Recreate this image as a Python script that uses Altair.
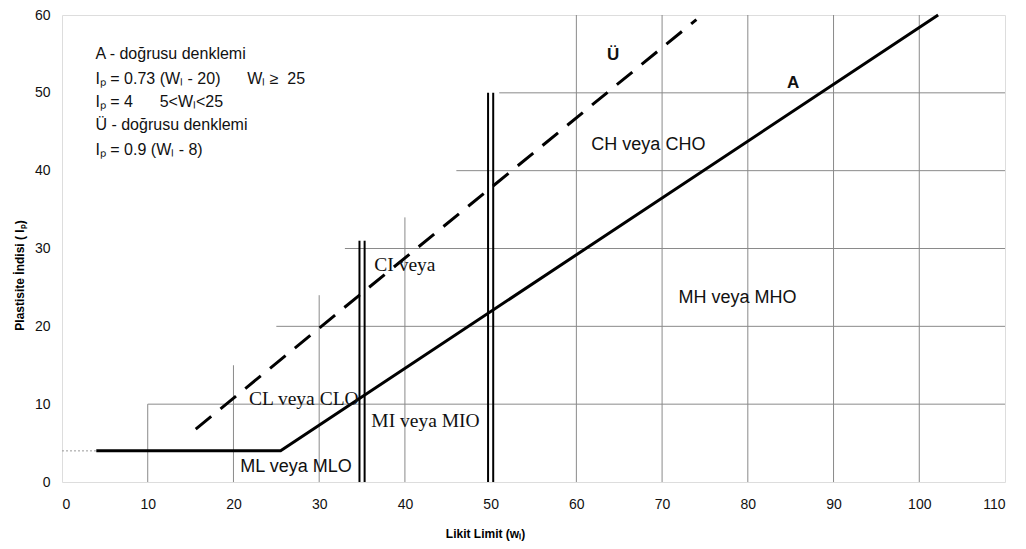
import altair as alt
import pandas as pd

# ---- data ----
grid_v_x = [10, 20, 30, 40, 60, 70, 80, 90, 100]
grid_v_top = [10, 15, 24, 34, 60, 60, 60, 60, 60]
grid_h_y = [10, 20, 30, 40, 50]
grid_h_start = [10, 25, 33, 46, 51]
grid_h_end = [110, 110, 110, 110, 110]

dbl_x = [34.7, 35.3, 49.7, 50.3]
dbl_top = [31, 31, 50, 50]

a_x = [4, 25.5, 102.2]
a_y = [4, 4, 60]
u_x = [15.6, 74.0]
u_y = [6.8, 59.4]
dot_x = [0, 4]
dot_y = [4, 4]

sans_labels = ["CH veya CHO", "MH veya MHO", "ML veya MLO"]
sans_x = [68.4, 78.8, 27.3]
sans_y = [43.3, 23.7, 1.9]
serif_labels = ["CI veya", "CL veya CLO", "MI veya MIO"]
serif_x = [40.0, 28.2, 42.4]
serif_y = [27.9, 10.6, 7.9]

line_names = ["Ü", "A"]
line_name_x = [64.3, 85.3]
line_name_y = [54.9, 51.3]

eq_lines = [
    "A - doğrusu denklemi",
    "Iₚ = 0.73 (Wₗ - 20)\u00a0\u00a0\u00a0\u00a0\u00a0\u00a0Wₗ ≥\u00a0\u00a025",
    "Iₚ = 4\u00a0\u00a0\u00a0\u00a0\u00a0\u00a05<Wₗ<25",
    "Ü - doğrusu denklemi",
    "Iₚ = 0.9 (Wₗ - 8)",
]
eq_x = [3.9, 3.9, 3.9, 3.9, 3.9]
eq_y = [55.0, 51.8, 48.8, 45.9, 42.6]

x_ticks = list(range(0, 111, 10))
y_ticks = list(range(0, 61, 10))

SANS = "Liberation Sans"
SERIF = "Liberation Serif"

xs = alt.Scale(domain=[0, 110], nice=False, zero=False)
ys = alt.Scale(domain=[0, 60], nice=False, zero=False)

x_axis = alt.Axis(values=x_ticks, grid=False, ticks=False, domain=False,
                  labelFont=SANS, labelFontSize=14, labelColor="#111",
                  labelPadding=15, title="Likit Limit (wₗ)",
                  titleFont=SANS, titleFontSize=12, titleFontWeight="bold",
                  titleX=423, titleY=51, titleAnchor="middle", titleAlign="center",
                  titleBaseline="middle")
y_axis = alt.Axis(values=y_ticks, grid=False, ticks=False, domain=False,
                  labelFont=SANS, labelFontSize=14, labelColor="#111",
                  labelPadding=12, title="Plastisite İndisi ( Iₚ)",
                  titleFont=SANS, titleFontSize=12, titleFontWeight="bold",
                  titleX=-43, titleY=260, titleAlign="center",
                  titleBaseline="middle")

gv = pd.DataFrame({"x": grid_v_x, "y0": [0] * len(grid_v_x), "y1": grid_v_top})
gh = pd.DataFrame({"y": grid_h_y, "x0": grid_h_start, "x1": grid_h_end})
dbl = pd.DataFrame({"x": dbl_x, "y0": [0] * len(dbl_x), "y1": dbl_top})
adf = pd.DataFrame({"x": a_x, "y": a_y, "o": list(range(len(a_x)))})
udf = pd.DataFrame({"x": u_x, "y": u_y, "o": list(range(len(u_x)))})
ddf = pd.DataFrame({"x": dot_x, "y": dot_y})

grid_v = alt.Chart(gv).mark_rule(color="#8a8a8a", strokeWidth=1).encode(
    x=alt.X("x:Q", scale=xs, axis=x_axis),
    y=alt.Y("y0:Q", scale=ys, axis=y_axis),
    y2="y1:Q",
)
grid_h = alt.Chart(gh).mark_rule(color="#8a8a8a", strokeWidth=1).encode(
    x=alt.X("x0:Q", scale=xs), x2="x1:Q", y=alt.Y("y:Q", scale=ys)
)
dotted = alt.Chart(ddf).mark_line(color="#999", strokeWidth=1, strokeDash=[2, 2]).encode(
    x=alt.X("x:Q", scale=xs), y=alt.Y("y:Q", scale=ys)
)
dbl_lines = alt.Chart(dbl).mark_rule(color="black", strokeWidth=2).encode(
    x=alt.X("x:Q", scale=xs), y=alt.Y("y0:Q", scale=ys), y2="y1:Q"
)
a_line = alt.Chart(adf).mark_line(color="black", strokeWidth=3).encode(
    x=alt.X("x:Q", scale=xs), y=alt.Y("y:Q", scale=ys), order="o:Q"
)
u_line = alt.Chart(udf).mark_line(color="black", strokeWidth=3, strokeDash=[20, 12]).encode(
    x=alt.X("x:Q", scale=xs), y=alt.Y("y:Q", scale=ys), order="o:Q"
)

sans_t = alt.Chart(pd.DataFrame({"t": sans_labels, "x": sans_x, "y": sans_y})).mark_text(
    font=SANS, fontSize=18, color="#111", align="center", baseline="middle"
).encode(x=alt.X("x:Q", scale=xs), y=alt.Y("y:Q", scale=ys), text="t:N")

serif_t = alt.Chart(pd.DataFrame({"t": serif_labels, "x": serif_x, "y": serif_y})).mark_text(
    font=SERIF, fontSize=19.5, color="#111", align="center", baseline="middle"
).encode(x=alt.X("x:Q", scale=xs), y=alt.Y("y:Q", scale=ys), text="t:N")

name_t = alt.Chart(pd.DataFrame({"t": line_names, "x": line_name_x, "y": line_name_y})).mark_text(
    font=SANS, fontSize=17, fontWeight="bold", color="#111", align="center", baseline="middle"
).encode(x=alt.X("x:Q", scale=xs), y=alt.Y("y:Q", scale=ys), text="t:N")

eq_t = alt.Chart(pd.DataFrame({"t": eq_lines, "x": eq_x, "y": eq_y})).mark_text(
    font=SANS, fontSize=16, color="#111", align="left", baseline="middle"
).encode(x=alt.X("x:Q", scale=xs), y=alt.Y("y:Q", scale=ys), text="t:N")

chart = alt.layer(
    grid_v, grid_h, dotted, dbl_lines, a_line, u_line, sans_t, serif_t, name_t, eq_t
).properties(
    width=943, height=467,
    autosize=alt.AutoSizeParams(type="none"),
    padding={"left": 54, "top": 7, "right": 13, "bottom": 59},
).configure_view(
    stroke="black", strokeWidth=2
).configure(background="white")

chart.save("out.html", embed_options={"renderer": "svg", "actions": False})
